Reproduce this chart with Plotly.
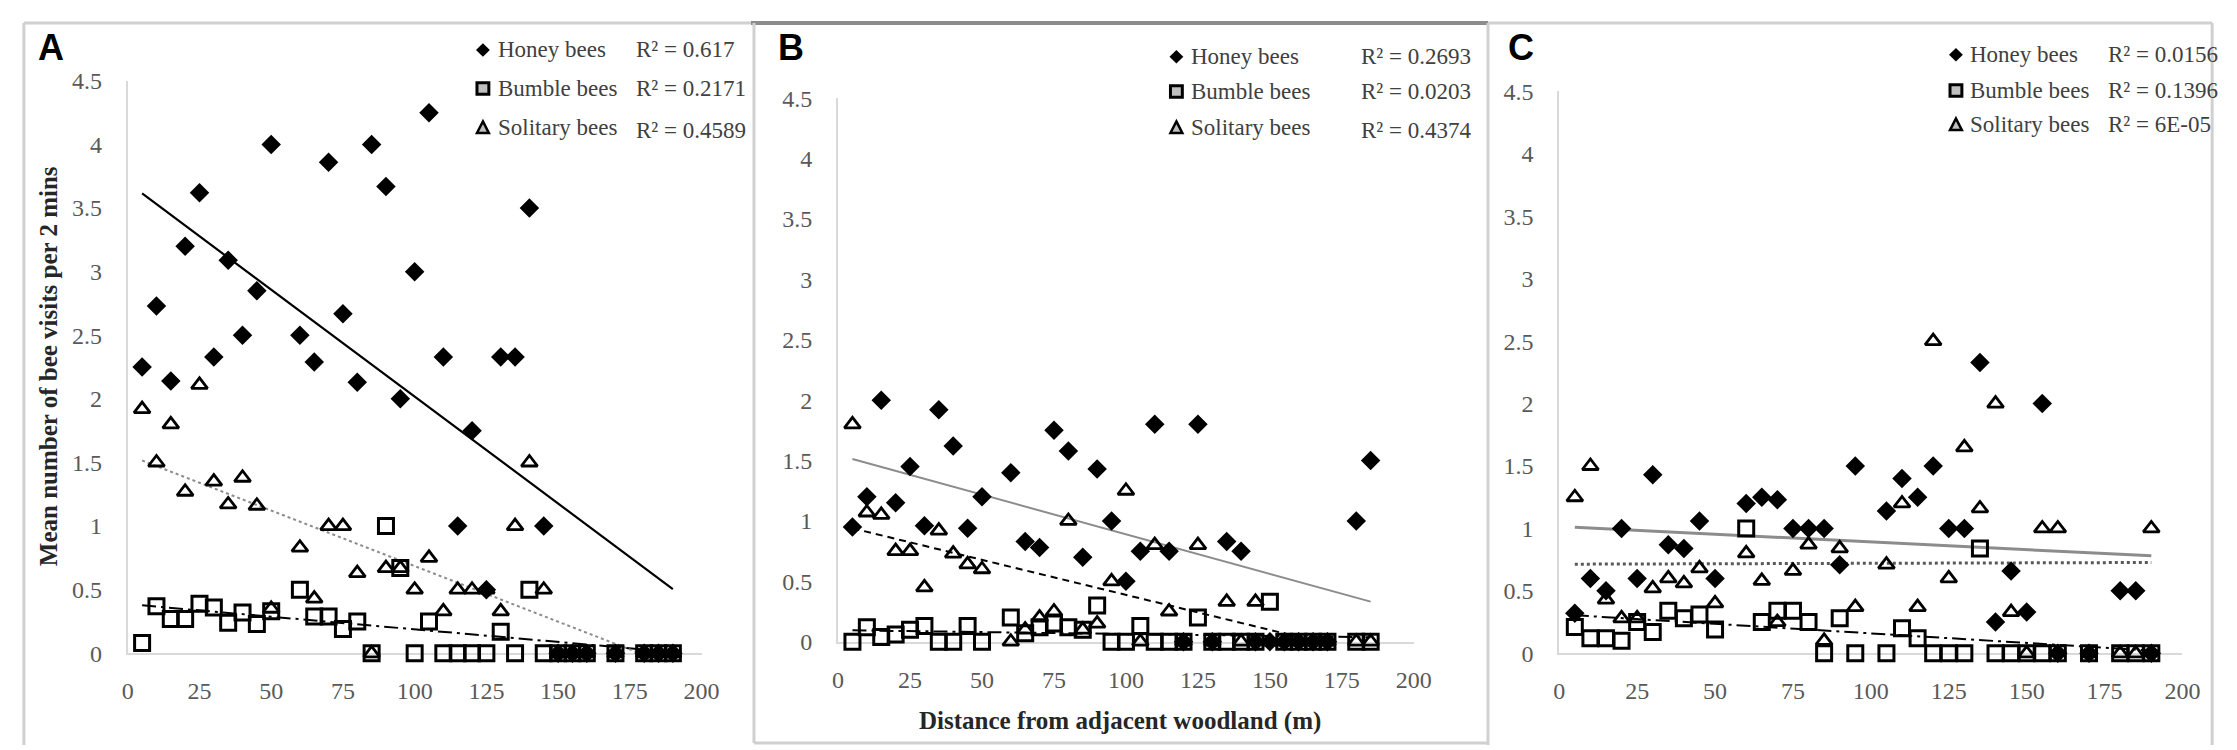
import numpy as np
import plotly.graph_objects as go

W, H = 2237, 750

# ---------------- data ----------------
dist_A = [5, 10, 15, 20, 25, 30, 35, 40, 45, 50, 60, 65, 70, 75, 80, 85, 90, 95, 100, 105,
          110, 115, 120, 125, 130, 135, 140, 145, 150, 155, 160, 170, 180, 185, 190]
honey_A = [2.25, 2.73, 2.14, 3.2, 3.62, 2.33, 3.09, 2.5, 2.85, 4.0,
           2.5, 2.29, 3.86, 2.67, 2.13, 4.0, 3.67, 2.0, 3.0, 4.25,
           2.33, 1.0, 1.75, 0.5, 2.33, 2.33, 3.5, 1.0, 0, 0, 0, 0, 0, 0, 0]
bumble_A = [0.08, 0.37, 0.27, 0.27, 0.39, 0.36, 0.24, 0.32, 0.23, 0.33,
            0.5, 0.29, 0.29, 0.19, 0.25, 0, 1.0, 0.67, 0, 0.25,
            0, 0, 0, 0, 0.17, 0, 0.5, 0, 0, 0, 0, 0, 0, 0, 0]
solitary_A = [1.92, 1.5, 1.8, 1.27, 2.11, 1.35, 1.17, 1.38, 1.16, 0.35,
              0.83, 0.43, 1.0, 1.0, 0.63, 0, 0.67, 0.67, 0.5, 0.75,
              0.33, 0.5, 0.5, 0.5, 0.33, 1.0, 1.5, 0.5, 0, 0, 0, 0, 0, 0, 0]

dist_B = [5, 10, 15, 20, 25, 30, 35, 40, 45, 50, 60, 65, 70, 75, 80, 85, 90, 95, 100, 105,
          110, 115, 120, 125, 130, 135, 140, 145, 150, 155, 160, 165, 170, 180, 185]
honey_B = [0.95, 1.2, 2.0, 1.15, 1.45, 0.96, 1.92, 1.62, 0.94, 1.2,
           1.4, 0.83, 0.78, 1.75, 1.58, 0.7, 1.43, 1.0, 0.5, 0.75,
           1.8, 0.75, 0, 1.8, 0, 0.83, 0.75, 0, 0, 0, 0, 0, 0, 1.0, 1.5]
bumble_B = [0, 0.12, 0.04, 0.06, 0.1, 0.13, 0, 0, 0.13, 0,
            0.2, 0.07, 0.12, 0.15, 0.12, 0.1, 0.3, 0, 0, 0.13,
            0, 0, 0, 0.2, 0, 0, 0, 0, 0.33, 0, 0, 0, 0, 0, 0]
solitary_B = [1.8, 1.07, 1.05, 0.75, 0.75, 0.45, 0.92, 0.73, 0.64, 0.6,
              0, 0.1, 0.2, 0.25, 1.0, 0.1, 0.15, 0.5, 1.25, 0,
              0.8, 0.25, 0, 0.8, 0, 0.33, 0, 0.33, 0, 0, 0, 0, 0, 0, 0]

dist_C = [5, 10, 15, 20, 25, 30, 35, 40, 45, 50, 60, 65, 70, 75, 80, 85, 90, 95,
          105, 110, 115, 120, 125, 130, 135, 140, 145, 150, 155, 160, 170, 180, 185, 190]
honey_C = [0.32, 0.6, 0.5, 1.0, 0.6, 1.43, 0.87, 0.84, 1.06, 0.6,
           1.2, 1.25, 1.23, 1.0, 1.0, 1.0, 0.71, 1.5,
           1.14, 1.4, 1.25, 1.5, 1.0, 1.0, 2.33, 0.25, 0.66, 0.33, 2.0, 0,
           0, 0.5, 0.5, 0]
bumble_C = [0.21, 0.12, 0.12, 0.1, 0.25, 0.17, 0.34, 0.28, 0.31, 0.19,
            1.0, 0.25, 0.34, 0.34, 0.25, 0, 0.28, 0,
            0, 0.2, 0.12, 0, 0, 0, 0.84, 0, 0, 0, 0, 0,
            0, 0, 0, 0]
solitary_C = [1.25, 1.5, 0.43, 0.28, 0.28, 0.52, 0.6, 0.56, 0.68, 0.4,
              0.8, 0.58, 0.25, 0.66, 0.87, 0.1, 0.84, 0.37,
              0.71, 1.2, 0.37, 2.5, 0.6, 1.65, 1.16, 2.0, 0.33, 0, 1.0, 1.0,
              0, 0, 0, 1.0]

series_names = ["Honey bees", "Bumble bees", "Solitary bees"]
r2_A = ["R² = 0.617", "R² = 0.2171", "R² = 0.4589"]
r2_B = ["R² = 0.2693", "R² = 0.0203", "R² = 0.4374"]
r2_C = ["R² = 0.0156", "R² = 0.1396", "R² = 6E-05"]
panel_letters = ["A", "B", "C"]
x_ticks = [0, 25, 50, 75, 100, 125, 150, 175, 200]
y_ticks = [0, 0.5, 1, 1.5, 2, 2.5, 3, 3.5, 4, 4.5]
y_ticktext = ["0", "0.5", "1", "1.5", "2", "2.5", "3", "3.5", "4", "4.5"]
y_title = "Mean number of bee visits per 2 mins"
x_title = "Distance from adjacent woodland (m)"

# ---------------- layout geometry (pixels) ----------------
def px(x):
    return x / W


def py(y):
    return 1 - y / H


panels = [
    dict(dist=dist_A, honey=honey_A, bumble=bumble_A, solitary=solitary_A, r2=r2_A,
         x0=115, x1=695, ytop=62, ybot=655,
         trend_styles=[dict(color="#000000", width=2.2, dash="solid"),
                       dict(color="#000000", width=2, dash="14px,5px,3px,5px"),
                       dict(color="#8c8c8c", width=2, dash="3px,3px")],
         leg_mx=474, leg_tx=487, leg_rx=627, leg_rows=[30, 70, 110], r2_rows=[30, 70, 113]),
    dict(dist=dist_B, honey=honey_B, bumble=bumble_B, solitary=solitary_B, r2=r2_B,
         x0=833, x1=1415, ytop=80, ybot=643,
         trend_styles=[dict(color="#8c8c8c", width=2, dash="solid"),
                       dict(color="#000000", width=2, dash="14px,5px,3px,5px"),
                       dict(color="#000000", width=2, dash="7px,5px")],
         leg_mx=1175, leg_tx=1188, leg_rx=1360, leg_rows=[37, 73, 110], r2_rows=[37, 73, 113]),
    dict(dist=dist_C, honey=honey_C, bumble=bumble_C, solitary=solitary_C, r2=r2_C,
         x0=1562, x1=2192, ytop=73, ybot=655,
         trend_styles=[dict(color="#8c8c8c", width=3, dash="solid"),
                       dict(color="#000000", width=2, dash="14px,5px,3px,5px"),
                       dict(color="#595959", width=3, dash="3px,3px")],
         leg_mx=1963, leg_tx=1975, leg_rx=2115, leg_rows=[35, 72, 107], r2_rows=[35, 72, 107]),
]

marker_styles = [
    dict(symbol="diamond", size=15, color="#000000", line=dict(width=0)),
    dict(symbol="square-open", size=15, color="#000000", line=dict(width=3, color="#000000")),
    dict(symbol="triangle-up-open", size=14, color="#000000", line=dict(width=2.8, color="#000000")),
]

fig = go.Figure()
layout = dict(width=W, height=H, margin=dict(l=0, r=0, t=0, b=0),
              paper_bgcolor="white", plot_bgcolor="white", showlegend=False)

tick_font = dict(family="Liberation Serif", size=24, color="#595959")
shapes = []
annotations = []

for i, p in enumerate(panels):
    k = "" if i == 0 else str(i + 1)
    xa, ya = "x" + k, "y" + k
    layout["xaxis" + k] = dict(domain=[px(p["x0"]), px(p["x1"])], range=[0, 200],
                               tickvals=x_ticks, showgrid=False, zeroline=False,
                               showline=True, linecolor="#d9d9d9", linewidth=2,
                               ticks="outside", ticklen=15, tickcolor="rgba(0,0,0,0)",
                               tickfont=tick_font, anchor=ya, layer="below traces",
                               fixedrange=True)
    layout["yaxis" + k] = dict(domain=[py(p["ybot"]), py(p["ytop"])], range=[0, 4.5],
                               tickvals=y_ticks, ticktext=y_ticktext, showgrid=False,
                               zeroline=False, showline=True, linecolor="#d9d9d9",
                               linewidth=2, ticks="outside", ticklen=19,
                               tickcolor="rgba(0,0,0,0)", tickfont=tick_font,
                               anchor=xa, layer="below traces", fixedrange=True)
    xs = np.array(p["dist"], dtype=float)
    vals = [p["honey"], p["bumble"], p["solitary"]]
    # linear trendlines (least squares) over the data range
    for j, v in enumerate(vals):
        v = np.array(v, dtype=float)
        slope, icpt = np.polyfit(xs, v, 1)
        tx = np.array([xs.min(), xs.max()])
        fig.add_trace(go.Scatter(x=tx, y=icpt + slope * tx, mode="lines",
                                 line=p["trend_styles"][j], xaxis=xa, yaxis=ya,
                                 hoverinfo="skip"))
    for j, v in enumerate(vals):
        fig.add_trace(go.Scatter(x=xs, y=v, mode="markers", marker=marker_styles[j],
                                 name=series_names[j], xaxis=xa, yaxis=ya,
                                 cliponaxis=False))
    # legend
    for j in range(3):
        cy = p["leg_rows"][j]
        mx = p["leg_mx"]
        if j == 0:
            s = 7
            shapes.append(dict(type="path", xref="paper", yref="paper",
                               path=f"M {px(mx)} {py(cy - s)} L {px(mx + s)} {py(cy)} L {px(mx)} {py(cy + s)} L {px(mx - s)} {py(cy)} Z",
                               fillcolor="#000000", line=dict(width=0)))
        elif j == 1:
            s = 6
            shapes.append(dict(type="rect", xref="paper", yref="paper",
                               x0=px(mx - s), x1=px(mx + s), y0=py(cy + s), y1=py(cy - s),
                               fillcolor="#bfbfbf", line=dict(width=3, color="#000000")))
        else:
            s = 6
            shapes.append(dict(type="path", xref="paper", yref="paper",
                               path=f"M {px(mx)} {py(cy - s)} L {px(mx + s)} {py(cy + s)} L {px(mx - s)} {py(cy + s)} Z",
                               fillcolor="#bfbfbf", line=dict(width=2.5, color="#000000")))
        annotations.append(dict(text=series_names[j], xref="paper", yref="paper",
                                x=px(p["leg_tx"]), y=py(cy), xanchor="left", yanchor="middle",
                                showarrow=False,
                                font=dict(family="Liberation Serif", size=23, color="#404040")))
        annotations.append(dict(text=p["r2"][j], xref="paper", yref="paper",
                                x=px(p["leg_rx"]), y=py(p["r2_rows"][j]), xanchor="left",
                                yanchor="middle", showarrow=False,
                                font=dict(family="Liberation Serif", size=23, color="#404040")))

# panel letters
for letter, lx in zip(panel_letters, [37, 785, 1523]):
    annotations.append(dict(text=f"<b>{letter}</b>", xref="paper", yref="paper",
                            x=px(lx), y=py(27), xanchor="center", yanchor="middle",
                            showarrow=False,
                            font=dict(family="Liberation Sans", size=36, color="#000000")))

# axis titles
annotations.append(dict(text=f"<b>{y_title}</b>", xref="paper", yref="paper",
                        x=px(35), y=py(358), xanchor="center", yanchor="middle",
                        textangle=-90, showarrow=False,
                        font=dict(family="Liberation Serif", size=25, color="#262626")))
annotations.append(dict(text=f"<b>{x_title}</b>", xref="paper", yref="paper",
                        x=px(1118), y=py(725), xanchor="center", yanchor="middle",
                        showarrow=False,
                        font=dict(family="Liberation Serif", size=25, color="#262626")))

# panel frames
light = "#d0d0d0"
frame_lines = [
    (10, 2, 745, 2, light, 3), (10, 2, 10, 750, light, 3),
    (745, 2, 1490, 2, "#8c8c8c", 4), (748, 2, 748, 748, light, 3),
    (748, 748, 1490, 748, light, 3), (1490, 2, 1490, 750, light, 3),
    (1490, 2, 2222, 2, light, 3), (2222, 2, 2222, 750, light, 3),
]
for (xa0, ya0, xa1, ya1, c, w) in frame_lines:
    shapes.append(dict(type="line", xref="paper", yref="paper", x0=px(xa0), y0=py(ya0),
                       x1=px(xa1), y1=py(ya1), line=dict(color=c, width=w)))

layout["shapes"] = shapes
layout["annotations"] = annotations
fig.update_layout(**layout)
fig.write_html("out.html")
